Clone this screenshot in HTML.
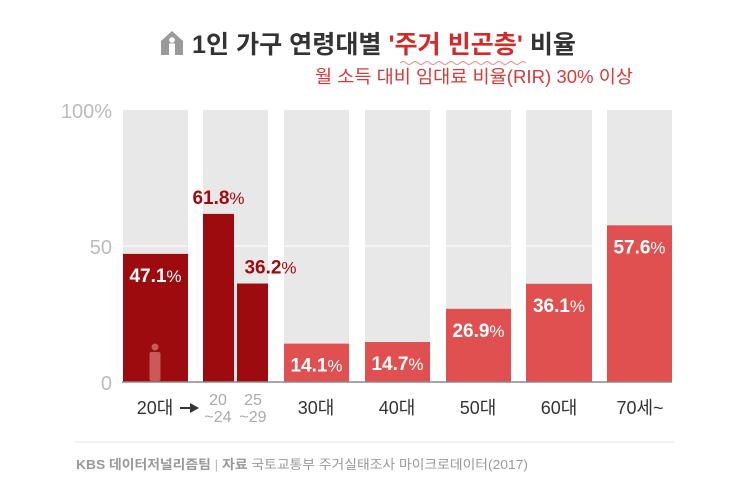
<!DOCTYPE html>
<html><head><meta charset="utf-8">
<style>
body{margin:0;background:#fff;}
#wrap{position:relative;width:750px;height:495px;overflow:hidden;font-family:"Liberation Sans","Noto Sans CJK KR",sans-serif;}
</style></head>
<body>
<div id="wrap">
<svg id="chart" width="750" height="495" style="position:absolute;left:0;top:0">
  <g>
    <path d="M161 41 L172 31 L183 41 L183 55 L161 55 Z" fill="#9a9a9a"/>
    <circle cx="172" cy="40" r="2.8" fill="#fff"/>
    <rect x="169" y="43.5" width="6" height="11.5" fill="#fff"/>
  </g>
  <text x="192" y="53" font-size="25" font-weight="bold" fill="#333" textLength="384" lengthAdjust="spacingAndGlyphs">1인 가구 연령대별 <tspan fill="#d42a2a">'주거 빈곤층'</tspan> 비율</text>
  <path d="M400 63 q3 -3 6 0 t6 0 t6 0 t6 0 t6 0 t6 0 t6 0 t6 0 t6 0 t6 0 t6 0 t6 0 t6 0 t6 0 t6 0 t6 0 t6 0 t6 0 t6 0 t6 0 t6 0" stroke="#e88" fill="none" stroke-width="1"/>
  <text x="633" y="83" font-size="18" fill="#d63a3a" text-anchor="end" textLength="318" lengthAdjust="spacingAndGlyphs">월 소득 대비 임대료 비율(RIR) 30% 이상</text>
  <g id="bg"></g><g id="bars"></g><g id="labels"></g>
  <line x1="75" y1="442" x2="675" y2="442" stroke="#e6e6e6"/>
  <text x="76" y="469" font-size="13" fill="#999" textLength="452" lengthAdjust="spacingAndGlyphs"><tspan font-weight="bold">KBS 데이터저널리즘팀</tspan>  <tspan fill="#bbb">|</tspan>  <tspan font-weight="bold">자료</tspan>  국토교통부 주거실태조사 마이크로데이터(2017)</text>
</svg>
</div>
<script>
const categories=["20대","20~24","25~29","30대","40대","50대","60대","70세~"];
const values=[47.1,61.8,36.2,14.1,14.7,26.9,36.1,57.6];
const yTicks=[0,50,100];
const yTickLabels=["0","50","100%"];
const ns="http://www.w3.org/2000/svg";
const y0=382,y100=110;
function yScale(v){return y0-(v/100)*(y0-y100);}
const slots=[[123,65],[203,31],[237,31],[284,65],[365,65],[446,65],[526,66],[607,65]];
const colors=["#9e0b0f","#9e0b0f","#9e0b0f","#e05050","#e05050","#e05050","#e05050","#e05050"];
const bg=document.getElementById('bg'),bars=document.getElementById('bars'),labels=document.getElementById('labels');
function mk(tag,attrs,parent){const e=document.createElementNS(ns,tag);for(const k in attrs)e.setAttribute(k,attrs[k]);parent.appendChild(e);return e;}
[[123,65],[203,65],[284,65],[365,65],[446,65],[526,66],[607,65]].forEach(s=>{
  const r=mk('rect',{x:s[0],y:y100,width:s[1],height:y0-y100,fill:'#e8e8e8'},bg);
  
  
});
const g50=mk('line',{x1:118,x2:672,y1:yScale(50),y2:yScale(50),stroke:'#fff','stroke-width':1},bg);


yTicks.forEach((t,i)=>{
  const tx=mk('text',{x:112,y:yScale(t)+8,'font-size':20,fill:'#bbb','text-anchor':'end'},labels);
  tx.textContent=yTickLabels[i];
  
  
});
values.forEach((v,i)=>{
  const [x,w]=slots[i];const top=yScale(v);
  const r=mk('rect',{x:x,y:top,width:w,height:y0-top,fill:colors[i]},bars);
  
  
  const inside=!(i===1||i===2);
  let lx=inside?x+w/2:(i===1?x+w/2:x+w/2+18);
  const t=mk('text',{x:lx,y:inside?top+28:top-10,'font-size':19,'font-weight':'bold',fill:inside?'#fff':'#9e0b0f','text-anchor':'middle'},labels);
  t.innerHTML=v.toFixed(1)+'<tspan font-weight="normal" font-size="17">%</tspan>';
  
  
});
const base=mk('line',{x1:122,x2:672,y1:y0,y2:y0,stroke:'#888','stroke-width':1.5},labels);


const pi=mk('g',{fill:'#c85a5a'},labels);


mk('circle',{cx:155,cy:347,r:3.5},pi);
mk('rect',{x:149.5,y:352,width:11,height:29,rx:2},pi);
[[155,"20대"],[316,"30대"],[397,"40대"],[478,"50대"],[559,"60대"],[640,"70세~"]].forEach(a=>{
  const t=mk('text',{x:a[0],y:414,'font-size':18,fill:'#333','text-anchor':'middle'},labels);
  t.textContent=a[1];
  
  
});
const ar=mk('g',{},labels);


mk('line',{x1:180,x2:192,y1:408,y2:408,stroke:'#333','stroke-width':2},ar);
mk('path',{d:'M190 403 L199 408 L190 413 Z',fill:'#333'},ar);
[[218,"20","~24"],[253,"25","~29"]].forEach(a=>{
  const t=mk('text',{x:a[0],y:405,'font-size':16,fill:'#aaa','text-anchor':'middle'},labels);
  t.innerHTML=a[1]+'<tspan x="'+a[0]+'" dy="17">'+a[2]+'</tspan>';
  
  
});
</script>
</body></html>
